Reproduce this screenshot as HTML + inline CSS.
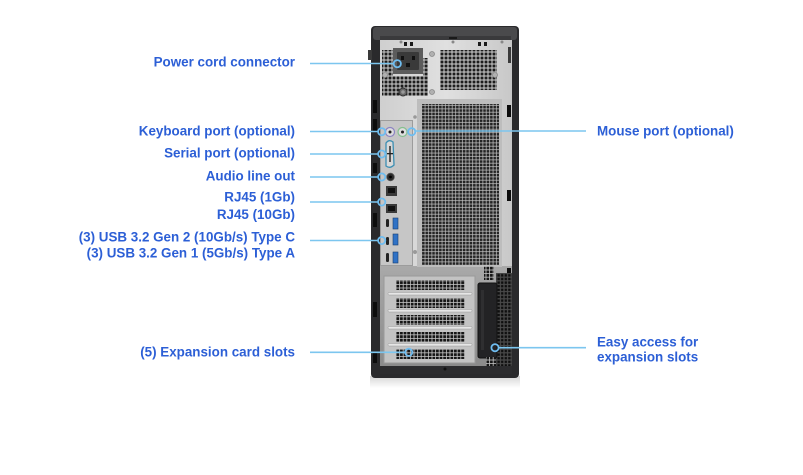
<!DOCTYPE html>
<html><head><meta charset="utf-8">
<style>
html,body{margin:0;padding:0;background:#fff;}
body{width:803px;height:475px;overflow:hidden;}
svg{display:block;}
.t{font-family:"Liberation Sans",Arial,sans-serif;font-weight:bold;font-size:13.4px;fill:#2c5fd6;}
.ln{stroke:#7cc6ef;stroke-width:1.6;fill:none;}
.rg{stroke:#6fbdf0;stroke-width:1.8;fill:none;}
</style></head>
<body>
<svg width="803" height="475" viewBox="0 0 803 475" xmlns="http://www.w3.org/2000/svg">
<defs>
  <pattern id="g" width="4" height="4" patternUnits="userSpaceOnUse">
    <rect width="4" height="4" fill="#d2d2d2"/>
    <rect x="0.5" y="0.5" width="3" height="3" fill="#1c1c1c"/>
  </pattern>
  <pattern id="gm" width="3.4" height="3.4" patternUnits="userSpaceOnUse">
    <rect width="3.4" height="3.4" fill="#c4c4c4"/>
    <rect x="0.4" y="0.4" width="2.7" height="2.7" fill="#242424"/>
  </pattern>
  <pattern id="gs" width="3.6" height="3.6" patternUnits="userSpaceOnUse">
    <rect width="3.6" height="3.6" fill="#c6c6c6"/>
    <rect x="0.4" y="0.4" width="2.8" height="2.8" fill="#151515"/>
  </pattern>
  <pattern id="gb" width="3.6" height="3.6" patternUnits="userSpaceOnUse">
    <rect width="3.6" height="3.6" fill="#4a4a4a"/>
    <rect x="0.6" y="0.6" width="2.4" height="2.4" fill="#0e0e0e"/>
  </pattern>
  <linearGradient id="pan" x1="0" y1="0" x2="1" y2="0">
    <stop offset="0" stop-color="#cfcfcf"/>
    <stop offset="0.5" stop-color="#e0e0e0"/>
    <stop offset="1" stop-color="#c8c8c8"/>
  </linearGradient>
  <linearGradient id="low" x1="0" y1="0" x2="0" y2="1">
    <stop offset="0" stop-color="#a9a9a9"/>
    <stop offset="1" stop-color="#8a8a8a"/>
  </linearGradient>
  <linearGradient id="shd" x1="0" y1="0" x2="0" y2="1">
    <stop offset="0" stop-color="#d6d6d6"/>
    <stop offset="1" stop-color="#ffffff"/>
  </linearGradient>
</defs>

<!-- shadow -->
<rect x="370" y="376" width="150" height="12" fill="url(#shd)"/>

<!-- outer frame -->
<rect x="371" y="26" width="148" height="352" rx="4" fill="#2a2a2c"/>
<rect x="368" y="50" width="4" height="10" fill="#3a3a3a"/>
<!-- top bar -->
<rect x="373" y="27" width="144" height="13" rx="3" fill="#4a4a4c"/>
<rect x="380" y="36" width="131" height="4" fill="#3a3a3c"/>
<rect x="449" y="37" width="8" height="2" fill="#1a1a1a"/>

<!-- silver panel -->
<rect x="380" y="40" width="132" height="230" fill="url(#pan)"/>
<!-- lower chassis -->
<rect x="380" y="266" width="132" height="102" fill="url(#low)"/>

<!-- top tabs -->
<rect x="404" y="42" width="3" height="4" fill="#1a1a1a"/>
<rect x="410" y="42" width="3" height="4" fill="#1a1a1a"/>
<rect x="478" y="42" width="3" height="4" fill="#1a1a1a"/>
<rect x="484" y="42" width="3" height="4" fill="#1a1a1a"/>

<!-- PSU grids -->
<rect x="382" y="50" width="11" height="26" fill="url(#g)"/>
<rect x="382" y="76" width="46" height="20" fill="url(#g)"/>
<rect x="423" y="58" width="5" height="20" fill="url(#g)"/>
<rect x="440" y="50" width="57" height="40" fill="url(#g)"/>
<!-- power inlet -->
<rect x="393" y="48" width="30" height="26" fill="#5c5c5c"/>
<rect x="397" y="52" width="22" height="18" rx="1" fill="#3a3a3a"/>
<rect x="401" y="56" width="3" height="4" fill="#111"/>
<rect x="412" y="56" width="3" height="4" fill="#111"/>
<rect x="406" y="63" width="4" height="4" fill="#111"/>
<!-- screws -->
<circle cx="432" cy="54" r="2.5" fill="#b0b0b0" stroke="#888" stroke-width="0.8"/>
<circle cx="385" cy="75" r="2.5" fill="#b0b0b0" stroke="#888" stroke-width="0.8"/>
<circle cx="432" cy="92" r="2.5" fill="#b0b0b0" stroke="#888" stroke-width="0.8"/>
<circle cx="495" cy="75" r="2.5" fill="#b0b0b0" stroke="#888" stroke-width="0.8"/>
<circle cx="403" cy="92" r="4" fill="#666" stroke="#333" stroke-width="1"/>
<circle cx="403" cy="92" r="1.8" fill="#999"/>
<circle cx="401" cy="42" r="1.5" fill="#888"/>
<circle cx="453" cy="42" r="1.5" fill="#888"/>
<circle cx="502" cy="42" r="1.5" fill="#888"/>

<!-- main vent -->
<rect x="417" y="99" width="85" height="168" fill="#bdbdbd"/>
<rect x="422" y="104" width="77" height="161" fill="url(#gm)"/>
<circle cx="415" cy="117" r="1.8" fill="#999"/>
<circle cx="415" cy="252" r="2" fill="#999"/>

<!-- I/O plate -->
<rect x="380.5" y="120.5" width="32" height="145" fill="#c6c6c6" stroke="#9c9c9c" stroke-width="1"/>
<!-- PS/2 -->
<circle cx="390" cy="132" r="4.5" fill="#dedede" stroke="#8d84c2" stroke-width="1.2"/>
<circle cx="390" cy="132" r="1.5" fill="#222"/>
<circle cx="402.5" cy="132" r="4.5" fill="#dedede" stroke="#86c08f" stroke-width="1.2"/>
<circle cx="402.5" cy="132" r="1.5" fill="#222"/>
<!-- serial -->
<path d="M386 143 Q389 139 393 142 L394 165 Q390 169 386 166 Z" fill="#d8d8d8" stroke="#3d8fb3" stroke-width="1.3"/>
<rect x="389.3" y="146" width="1.4" height="16" fill="#222"/>
<rect x="387" y="153" width="6" height="1.3" fill="#222"/>
<!-- audio -->
<circle cx="390.5" cy="177" r="3.8" fill="#2a2a2a" stroke="#555" stroke-width="0.8"/>
<circle cx="390.5" cy="177" r="1.4" fill="#000"/>
<!-- RJ45 -->
<rect x="386" y="186" width="11" height="10" fill="#3a3a3a"/>
<rect x="388" y="188" width="7" height="5" fill="#111"/>
<rect x="386" y="204" width="11" height="9" fill="#3a3a3a"/>
<rect x="388" y="206" width="7" height="5" fill="#111"/>
<!-- USB-C -->
<rect x="386" y="219" width="3" height="8" rx="1.4" fill="#222"/>
<rect x="386" y="237" width="3" height="8" rx="1.4" fill="#222"/>
<rect x="386" y="253" width="3" height="9" rx="1.4" fill="#222"/>
<!-- USB-A -->
<rect x="393" y="218" width="5" height="11" fill="#2f72c6" stroke="#1c3f6e" stroke-width="0.6"/>
<rect x="393" y="234" width="5" height="11" fill="#2f72c6" stroke="#1c3f6e" stroke-width="0.6"/>
<rect x="393" y="252" width="5" height="11" fill="#2f72c6" stroke="#1c3f6e" stroke-width="0.6"/>

<!-- left frame slots -->
<rect x="373" y="100" width="4" height="13" fill="#0c0c0c"/>
<rect x="373" y="119" width="4" height="12" fill="#0c0c0c"/>
<rect x="373" y="163" width="4" height="10" fill="#0c0c0c"/>
<rect x="373" y="213" width="4" height="14" fill="#0c0c0c"/>
<rect x="373" y="302" width="4" height="15" fill="#0c0c0c"/>
<rect x="373" y="352" width="4" height="11" fill="#0c0c0c"/>
<!-- right frame slots -->
<rect x="508" y="47" width="3" height="16" fill="#3a3a3a"/>
<rect x="507" y="105" width="4" height="12" fill="#0c0c0c"/>
<rect x="507" y="190" width="4" height="11" fill="#0c0c0c"/>
<rect x="507" y="268" width="4" height="12" fill="#0c0c0c"/>

<!-- expansion bracket -->
<rect x="384" y="276" width="91" height="87" fill="#c3c3c3" stroke="#9a9a9a" stroke-width="1"/>
<rect x="396" y="280" width="69" height="10" fill="url(#gs)"/>
<rect x="396" y="298" width="69" height="10" fill="url(#gs)"/>
<rect x="396" y="315" width="69" height="10" fill="url(#gs)"/>
<rect x="396" y="332" width="69" height="10" fill="url(#gs)"/>
<rect x="396" y="349" width="69" height="10" fill="url(#gs)"/>
<rect x="388" y="292.5" width="84" height="2.5" rx="1" fill="#e6e6e6" stroke="#9a9a9a" stroke-width="0.5"/>
<rect x="388" y="309.5" width="84" height="2.5" rx="1" fill="#e6e6e6" stroke="#9a9a9a" stroke-width="0.5"/>
<rect x="388" y="326.5" width="84" height="2.5" rx="1" fill="#e6e6e6" stroke="#9a9a9a" stroke-width="0.5"/>
<rect x="388" y="343.5" width="84" height="2.5" rx="1" fill="#e6e6e6" stroke="#9a9a9a" stroke-width="0.5"/>

<!-- right black vent + latch -->
<rect x="496" y="273" width="16" height="95" fill="url(#gb)"/>
<rect x="484" y="266" width="10" height="14" fill="url(#gs)"/>
<rect x="478" y="283" width="19" height="75" rx="2" fill="#232325" stroke="#111" stroke-width="1"/>
<rect x="481" y="290" width="3" height="60" fill="#2f2f31"/>
<rect x="486" y="357" width="10" height="10" fill="url(#gs)"/>
<!-- bottom band -->
<rect x="380" y="366" width="132" height="8" fill="#2c2c2e"/>
<circle cx="445" cy="369" r="1.5" fill="#111"/>

<!-- connector lines -->
<line class="ln" x1="310" y1="63.5" x2="393.5" y2="63.5"/>
<circle class="rg" cx="397.3" cy="63.7" r="3.6"/>

<line class="ln" x1="310" y1="131.5" x2="378" y2="131.5"/>
<circle class="rg" cx="381.7" cy="131.7" r="3.6"/>

<line class="ln" x1="310" y1="154" x2="378" y2="154"/>
<circle class="rg" cx="381.7" cy="154" r="3.6"/>

<line class="ln" x1="310" y1="177" x2="378" y2="177"/>
<circle class="rg" cx="381.7" cy="177" r="3.6"/>

<line class="ln" x1="310" y1="202" x2="378" y2="202"/>
<circle class="rg" cx="381.7" cy="202" r="3.6"/>

<line class="ln" x1="310" y1="240.5" x2="378" y2="240.5"/>
<circle class="rg" cx="381.7" cy="240.5" r="3.6"/>

<line class="ln" x1="310" y1="352.3" x2="405" y2="352.3"/>
<circle class="rg" cx="408.7" cy="352.3" r="3.6"/>

<circle class="rg" cx="411.7" cy="131.7" r="3.6"/>
<line class="ln" x1="415.3" y1="131" x2="586" y2="131"/>

<circle class="rg" cx="495" cy="347.7" r="3.6"/>
<line class="ln" x1="498.6" y1="347.7" x2="586" y2="347.7"/>

<!-- labels -->
<text class="t" x="295" y="66.7" text-anchor="end">Power cord connector</text>
<text class="t" x="295" y="135.5" text-anchor="end">Keyboard port (optional)</text>
<text class="t" x="295" y="157.5" text-anchor="end">Serial port (optional)</text>
<text class="t" x="295" y="180.7" text-anchor="end">Audio line out</text>
<text class="t" x="295" y="201.7" text-anchor="end">RJ45 (1Gb)</text>
<text class="t" x="295" y="219" text-anchor="end">RJ45 (10Gb)</text>
<text class="t" x="295" y="241.7" text-anchor="end">(3) USB 3.2 Gen 2 (10Gb/s) Type C</text>
<text class="t" x="295" y="257.3" text-anchor="end">(3) USB 3.2 Gen 1 (5Gb/s) Type A</text>
<text class="t" x="295" y="356.7" text-anchor="end">(5) Expansion card slots</text>
<text class="t" x="597" y="135.7">Mouse port (optional)</text>
<text class="t" x="597" y="346.7">Easy access for</text>
<text class="t" x="597" y="361.7">expansion slots</text>
</svg>
</body></html>
